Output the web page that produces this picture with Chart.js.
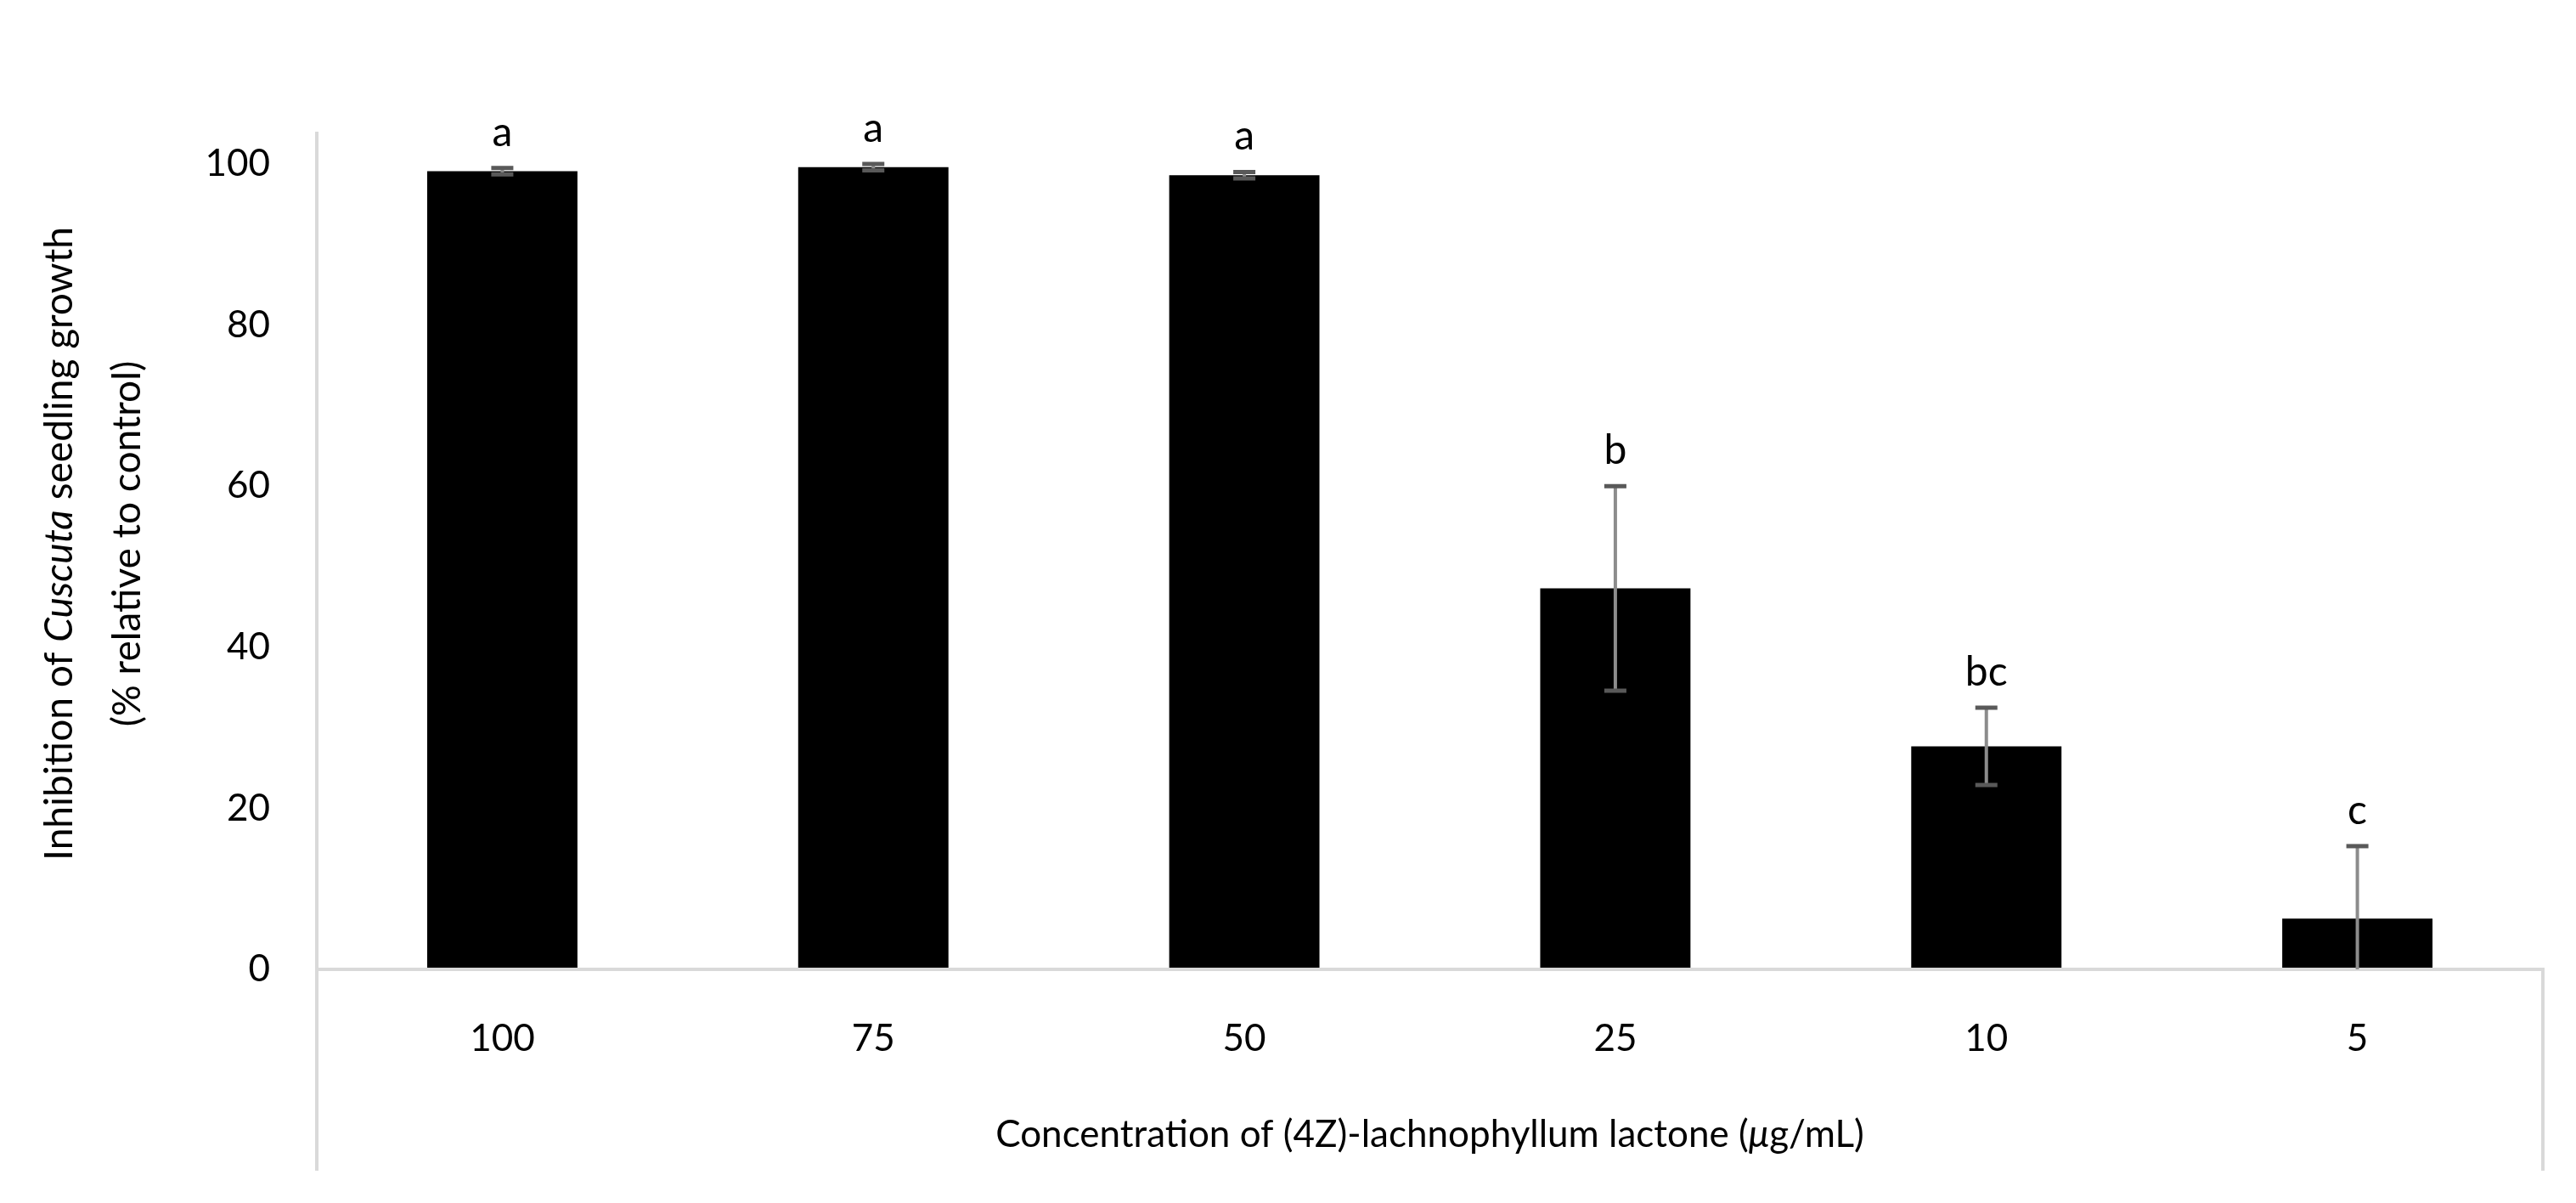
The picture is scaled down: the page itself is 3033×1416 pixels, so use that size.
<!DOCTYPE html>
<html><head><meta charset="utf-8">
<script src="https://cdn.jsdelivr.net/npm/chart.js@4"></script>
<style>html,body{margin:0;padding:0;background:#fff}</style>
</head><body>
<canvas id="c" width="3033" height="1416" style="width:3033px;height:1416px"></canvas>
<script>
const categories = ["100", "75", "50", "25", "10", "5"];
const means = [99.1, 99.6, 98.6, 47.3, 27.7, 6.3];
const errors = [0.4, 0.4, 0.4, 12.7, 4.8, 9.0];
const letters = ["a", "a", "a", "b", "bc", "c"];
const yTicks = [0, 20, 40, 60, 80, 100];

const FONT = "Lato, 'Open Sans', sans-serif";
const deco = {
  id: 'deco',
  afterDatasetsDraw(chart) {
    const ctx = chart.ctx, x = chart.scales.x, y = chart.scales.y, a = chart.chartArea;
    const H = chart.height;
    ctx.save();
    // frame lines
    ctx.strokeStyle = '#d9d9d9'; ctx.lineWidth = 4;
    ctx.beginPath();
    ctx.moveTo(a.left, a.top); ctx.lineTo(a.left, H - 38);
    ctx.moveTo(a.left, y.getPixelForValue(0)); ctx.lineTo(a.right, y.getPixelForValue(0));
    ctx.lineTo(a.right, H - 38);
    ctx.stroke();
    // error bars + letters
    means.forEach((m, i) => {
      const cx = x.getPixelForValue(i);
      const yt = y.getPixelForValue(m + errors[i]);
      const yb = y.getPixelForValue(Math.max(0, m - errors[i]));
      ctx.strokeStyle = '#8c8c8c'; ctx.lineWidth = 4;
      ctx.beginPath(); ctx.moveTo(cx, yt); ctx.lineTo(cx, yb); ctx.stroke();
      ctx.strokeStyle = '#595959'; ctx.lineWidth = 5;
      ctx.beginPath();
      ctx.moveTo(cx - 13, yt); ctx.lineTo(cx + 13, yt);
      if (m - errors[i] > 0) { ctx.moveTo(cx - 13, yb); ctx.lineTo(cx + 13, yb); }
      ctx.stroke();
      ctx.fillStyle = '#000'; ctx.font = '48px ' + FONT;
      ctx.textAlign = 'center'; ctx.textBaseline = 'alphabetic';
      ctx.fillText(letters[i], cx, yt - 26);
    });
    // x title
    const parts = [["Concentration of (4Z)-lachnophyllum lactone (", ""], ["μ", "italic "], ["g/mL)", ""]];
    ctx.textBaseline = 'middle'; ctx.textAlign = 'left';
    let tw = 0;
    parts.forEach(p => { ctx.font = p[1] + '44px ' + FONT; tw += ctx.measureText(p[0]).width; });
    let px = (a.left + a.right) / 2 - tw / 2;
    parts.forEach(p => { ctx.font = p[1] + '44px ' + FONT; ctx.fillText(p[0], px, 1336); px += ctx.measureText(p[0]).width; });
    // y title
    ctx.translate(0, 0);
    const cy = 640;
    const lines = [
      [[["Inhibition of ", ""], ["Cuscuta", "italic "], [" seedling growth", ""]], 70],
      [[["(% relative to control)", ""]], 150]
    ];
    lines.forEach(([segs, lx]) => {
      ctx.save(); ctx.translate(lx, cy); ctx.rotate(-Math.PI / 2);
      let w = 0; segs.forEach(s => { ctx.font = s[1] + '46px ' + FONT; w += ctx.measureText(s[0]).width; });
      let sx = -w / 2;
      segs.forEach(s => { ctx.font = s[1] + '46px ' + FONT; ctx.fillText(s[0], sx, 0); sx += ctx.measureText(s[0]).width; });
      ctx.restore();
    });
    ctx.restore();
  }
};

new Chart(document.getElementById('c'), {
  type: 'bar',
  data: { labels: categories, datasets: [{ data: means, backgroundColor: '#000', categoryPercentage: 1, barPercentage: 0.405 }] },
  options: {
    responsive: false, animation: false, devicePixelRatio: 1,
    layout: { padding: { top: 155, right: 39, left: 0, bottom: 0 } },
    plugins: { legend: { display: false }, tooltip: { enabled: false } },
    scales: {
      x: {
        grid: { display: false, drawTicks: false }, border: { display: false },
        ticks: { color: '#000', font: { size: 44, family: FONT }, padding: 55 },
        afterFit: s => { s.height = 275; }
      },
      y: {
        min: 0, max: 104,
        afterBuildTicks: s => { s.ticks = yTicks.map(v => ({ value: v })); },
        grid: { display: false, drawTicks: false }, border: { display: false },
        ticks: { color: '#000', font: { size: 44, family: FONT }, padding: 55 },
        afterFit: s => { s.width = 373; }
      }
    }
  },
  plugins: [deco]
});
</script>
</body></html>
